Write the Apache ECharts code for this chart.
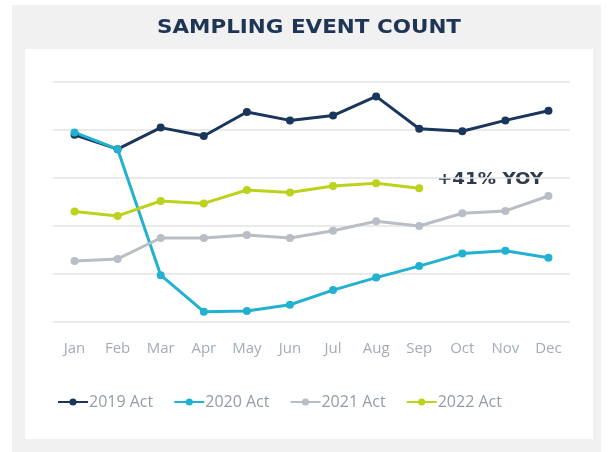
<!DOCTYPE html>
<html>
<head>
<meta charset="utf-8">
<script src="https://cdn.jsdelivr.net/npm/echarts@6/dist/echarts.min.js"></script>
<style>
 html, body { margin: 0; padding: 0; background: #ffffff; }
 #chart1 { width: 611px; height: 452px; }
</style>
</head>
<body>
<div id="chart1"></div>
<script>
var months = ['Jan', 'Feb', 'Mar', 'Apr', 'May', 'Jun', 'Jul', 'Aug', 'Sep', 'Oct', 'Nov', 'Dec'];
var act2019 = [78, 72, 81, 77.5, 87.5, 84, 86, 94, 80.5, 79.5, 84, 88];
var act2020 = [79, 72, 19.5, 4.3, 4.6, 7.2, 13.3, 18.5, 23.3, 28.5, 29.7, 26.8];
var act2021 = [25.4, 26.3, 35, 35, 36.3, 35, 38, 42, 40, 45.3, 46.3, 52.5];
var act2022 = [46, 44.2, 50.4, 49.4, 55, 54, 56.7, 57.8, 55.7];
var yoyLabel = '+41% YOY';

var dom = document.getElementById("chart1");
var myChart = echarts.init(dom);

function lineSeries(name, color, data) {
	return {
		name: name,
		type: 'line',
		data: data,
		symbol: 'circle',
		symbolSize: 8,
		lineStyle: { color: color, width: 3 },
		itemStyle: { color: color },
		emphasis: { disabled: true },
		animation: false
	};
}

var option = {
	backgroundColor: '#ffffff',
	graphic: [
		{ type: 'rect', z: -10, shape: { x: 12, y: 5, width: 589, height: 447 }, style: { fill: '#f1f1f1' } },
		{ type: 'rect', z: -9, shape: { x: 25, y: 49, width: 568, height: 390 }, style: { fill: '#ffffff' } },
		{
			type: 'text', x: 309, y: 28, scaleX: 1.13,
			style: { text: 'SAMPLING EVENT COUNT', fill: '#1e3556', font: 'bold 19px "DejaVu Sans"',
				align: 'center', verticalAlign: 'middle' }
		},
		{
			type: 'text', x: 437, y: 180, scaleX: 1.22,
			style: { text: yoyLabel, fill: '#2f3a4e', font: 'bold 15px "DejaVu Sans"',
				align: 'left', verticalAlign: 'middle' }
		}
	],
	legend: {
		data: ['2019 Act', '2020 Act', '2021 Act', '2022 Act'],
		left: 52,
		top: 389,
		itemWidth: 30,
		itemHeight: 9,
		itemGap: 20,
		textStyle: { color: '#939cab', fontSize: 16, fontFamily: 'Open Sans', padding: [0, 0, 0, -4] }
	},
	grid: {
		top: 82,
		bottom: 130,
		left: 53,
		right: 41
	},
	xAxis: {
		type: 'category',
		data: months,
		axisLine: { show: false },
		axisTick: { show: false },
		axisLabel: { color: '#a3abb9', fontSize: 15, fontFamily: 'Open Sans', margin: 19 }
	},
	yAxis: {
		type: 'value',
		min: 0,
		max: 100,
		interval: 20,
		axisLabel: { show: false },
		splitLine: { lineStyle: { color: '#e3e3e3', width: 1.5 } }
	},
	series: [
		lineSeries('2019 Act', '#1b365d', act2019),
		lineSeries('2020 Act', '#22b1d0', act2020),
		lineSeries('2021 Act', '#b9bdc5', act2021),
		lineSeries('2022 Act', '#bdd21d', act2022)
	]
};

myChart.setOption(option);
</script>
</body>
</html>
